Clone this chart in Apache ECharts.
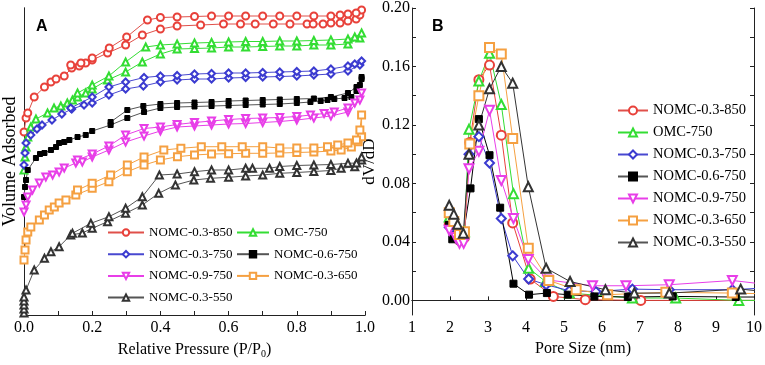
<!DOCTYPE html>
<html>
<head>
<meta charset="utf-8">
<script src="https://cdn.jsdelivr.net/npm/echarts@6/dist/echarts.min.js"></script>
<style>
  html, body { margin: 0; padding: 0; background: #fff; }
  #chart { width: 765px; height: 365px; }
</style>
</head>
<body>
<div id="chart"></div>
<script>
// 样品名称 / 颜色 / 标记
const names = ['NOMC-0.3-850', 'OMC-750', 'NOMC-0.3-750', 'NOMC-0.6-750', 'NOMC-0.9-750', 'NOMC-0.3-650', 'NOMC-0.3-550'];
const colors = ['#e8413a', '#33dd33', '#3b3bd0', '#000000', '#e83ee8', '#f5a041', '#333333'];
const lineColorsA = ['#e0504a', '#33dd33', '#4848d0', '#555555', '#e83ee8', '#f5a041', '#555555'];
const symbols = ['emptyCircle', 'emptyTriangle', 'emptyDiamond', 'rect', 'emptyTriangle', 'emptyRect', 'emptyTriangle'];
const rotates = [0, 0, 0, 0, 180, 0, 0];

// A: isotherms [P/P0, volume (a.u.)]
const ads850 = [[0,183],[0.006,197],[0.011,202],[0.03,218],[0.06,228],[0.079,233],[0.094,236],[0.118,239],[0.14,247],[0.162,249],[0.181,252],[0.2,255],[0.245,262],[0.298,270],[0.347,280],[0.4,286],[0.449,289],[0.518,290],[0.585,291],[0.635,291],[0.678,291],[0.731,291],[0.78,291],[0.83,291],[0.848,291],[0.877,291],[0.9,292],[0.927,292],[0.95,294],[0.974,296],[0.985,300]];
const des850 = [[0.99,305],[0.974,302],[0.95,301],[0.927,300],[0.9,299],[0.85,299],[0.8,299],[0.75,299],[0.7,299],[0.65,299],[0.6,299],[0.55,299],[0.5,298.5],[0.449,298],[0.4,297.5],[0.362,295],[0.301,278],[0.25,267],[0.2,257],[0.167,252],[0.137,250]];
const adsOMC = [[0,145],[0.003,158],[0.006,168],[0.011,178],[0.02,188],[0.035,196],[0.069,202],[0.088,207],[0.108,209],[0.127,212],[0.142,215],[0.157,218],[0.181,222],[0.2,226],[0.245,235],[0.298,243],[0.347,253],[0.4,261],[0.449,266],[0.5,266.5],[0.55,267],[0.6,268],[0.65,268],[0.7,268.5],[0.75,269],[0.8,269],[0.85,270],[0.9,270],[0.95,271],[0.985,277]];
const desOMC = [[0.99,282],[0.97,278],[0.95,276],[0.9,275],[0.85,274.5],[0.8,274],[0.75,274],[0.7,273.5],[0.65,273.5],[0.6,273],[0.55,272.5],[0.5,272],[0.449,271],[0.4,270],[0.357,268],[0.298,253],[0.249,239],[0.2,230],[0.157,222]];
const ads0375 = [[0,150],[0.003,162],[0.006,172],[0.02,180],[0.038,186],[0.053,190],[0.082,195],[0.111,201],[0.14,206],[0.176,210],[0.2,212],[0.249,220],[0.298,226],[0.35,229],[0.4,233],[0.449,235],[0.5,236],[0.55,236],[0.6,237],[0.65,237.5],[0.7,238],[0.75,238.5],[0.8,239],[0.85,240],[0.9,241],[0.95,244],[0.985,250]];
const des0375 = [[0.99,254],[0.97,251],[0.95,249],[0.9,246],[0.85,244],[0.8,243.5],[0.75,243],[0.7,242.5],[0.65,242],[0.6,242],[0.55,241.5],[0.5,241],[0.449,239.5],[0.4,239],[0.352,237.5],[0.298,233],[0.249,228],[0.2,218],[0.137,207]];
const ads0675 = [[0,118],[0.003,128],[0.006,135],[0.011,145],[0.035,157],[0.047,161],[0.06,162],[0.079,165],[0.094,168],[0.103,172],[0.118,173],[0.133,175],[0.157,178],[0.181,180],[0.2,184],[0.254,190],[0.303,197],[0.352,203],[0.4,207],[0.449,208],[0.5,208.5],[0.55,209],[0.6,209.5],[0.65,210],[0.7,210.5],[0.75,211],[0.8,212],[0.84,213],[0.87,214],[0.89,215],[0.91,216],[0.94,217],[0.96,218],[0.975,224],[0.985,230],[0.99,236]];
const des0675 = [[0.99,238],[0.975,228],[0.95,222],[0.9,218],[0.85,216.5],[0.8,216],[0.75,215.5],[0.7,215],[0.65,214.5],[0.6,214],[0.55,213],[0.5,212.5],[0.449,212],[0.4,211],[0.35,209],[0.303,205],[0.254,193]];
const ads0975 = [[0,103],[0.006,110],[0.011,118],[0.025,125],[0.045,132],[0.064,138],[0.084,140],[0.103,143],[0.118,147],[0.152,152],[0.171,153],[0.2,158],[0.249,165],[0.298,173],[0.352,179],[0.4,184],[0.449,188],[0.5,189],[0.55,190],[0.6,191],[0.65,191.5],[0.7,192.5],[0.75,193.5],[0.8,195],[0.85,197],[0.9,199],[0.95,203],[0.985,215]];
const des0975 = [[0.99,222],[0.97,212],[0.95,207],[0.91,203],[0.88,201.5],[0.84,200],[0.8,198.5],[0.75,197.5],[0.7,197],[0.65,196.5],[0.6,195.5],[0.55,194],[0.5,192.5],[0.449,190.5],[0.4,188],[0.352,186.5],[0.298,180],[0.249,169],[0.2,161],[0.157,155]];
const ads0365 = [[0,55],[0.003,65],[0.006,75],[0.011,83],[0.02,88],[0.045,95],[0.06,100],[0.074,105],[0.089,108],[0.103,112],[0.123,115],[0.152,120],[0.2,126.7],[0.249,133.3],[0.303,143.3],[0.352,150],[0.4,155],[0.45,158.3],[0.5,160],[0.55,161],[0.6,161.3],[0.65,161.7],[0.7,161.7],[0.75,162],[0.8,162.5],[0.85,163],[0.9,164],[0.93,165],[0.96,168],[0.98,173.3],[0.99,178.3]];
const des0365 = [[0.99,200],[0.985,185],[0.975,175],[0.95,172],[0.92,170],[0.89,168.3],[0.85,167],[0.8,167],[0.75,167],[0.7,168.3],[0.64,168.3],[0.58,168.3],[0.52,168.3],[0.46,166.7],[0.41,165],[0.352,158],[0.303,150],[0.254,140],[0.2,131.7],[0.157,125]];
const ads0355 = [[0,2],[0,6],[0,10],[0,14],[0,18],[0.006,25],[0.03,45],[0.06,56.7],[0.079,63.3],[0.103,68.3],[0.137,80],[0.171,82],[0.2,86.7],[0.245,93.3],[0.298,101.7],[0.347,110],[0.395,121.7],[0.444,130],[0.498,135],[0.547,136.7],[0.6,137.7],[0.65,139],[0.7,140],[0.75,141.7],[0.8,142.5],[0.85,143.5],[0.9,144.5],[0.93,146.7],[0.97,148.3],[0.99,155]];
const des0355 = [[0.99,158],[0.975,152],[0.95,151.7],[0.9,150.5],[0.85,150],[0.8,149.5],[0.75,148.5],[0.72,146.7],[0.67,146.7],[0.65,146.7],[0.6,145],[0.55,145],[0.5,143.3],[0.449,141],[0.397,140],[0.347,118.3],[0.298,106.7],[0.249,98.3],[0.196,91.7],[0.142,81.7]];

// B: pore size distribution [nm, dV/dD]
const b850 = [[1.98,0.052],[2.12,0.046],[2.25,0.041],[2.38,0.043],[2.52,0.108],[2.76,0.151],[3.04,0.161],[3.35,0.113],[3.65,0.053],[4.11,0.0146],[4.72,0.0027],[5.56,0.0005],[7.02,0.0],[10.3,0.0]];
const bOMC = [[1.98,0.057],[2.1,0.05],[2.25,0.043],[2.38,0.047],[2.5,0.117],[2.76,0.15],[3.04,0.169],[3.35,0.134],[3.67,0.073],[4.07,0.022],[4.51,0.013],[5.14,0.005],[6.8,0.0016],[7.94,0.0016],[9.6,0.0],[10.3,0.0]];
const b0375 = [[1.98,0.05],[2.1,0.045],[2.22,0.041],[2.36,0.044],[2.5,0.1],[2.76,0.112],[3.04,0.094],[3.35,0.056],[3.65,0.0305],[4.07,0.0146],[4.53,0.0107],[5.14,0.0066],[5.84,0.006],[6.8,0.0077],[7.77,0.0073],[9.43,0.0073],[10.3,0.0085]];
const b0675 = [[1.97,0.0516],[2.06,0.0418],[2.2,0.045],[2.35,0.045],[2.54,0.0766],[2.76,0.124],[3.04,0.0993],[3.32,0.0634],[3.67,0.0114],[4.08,0.0039],[4.55,0.005],[5.1,0.0039],[5.8,0.0027],[6.68,0.0023],[7.86,0.0027],[9.52,0.0023],[10.3,0.0023]];
const b0975 = [[1.98,0.048],[2.15,0.043],[2.25,0.039],[2.36,0.039],[2.5,0.09],[2.76,0.102],[3.04,0.13],[3.35,0.082],[3.67,0.056],[4.06,0.028],[4.57,0.014],[5.75,0.01],[6.63,0.01],[7.77,0.0107],[9.43,0.0136],[10.3,0.011]];
const b0365 = [[1.98,0.06],[2.1,0.054],[2.25,0.045],[2.38,0.047],[2.52,0.107],[2.76,0.14],[3.04,0.173],[3.35,0.1686],[3.65,0.1107],[4.06,0.0357],[4.6,0.0136],[5.32,0.0073],[6.15,0.0039],[7.68,0.0055],[9.43,0.005],[10.3,0.0045]];
const b0355 = [[1.98,0.065],[2.1,0.059],[2.2,0.052],[2.35,0.046],[2.5,0.1],[2.76,0.12],[3.04,0.1447],[3.35,0.16],[3.65,0.1486],[4.06,0.0777],[4.53,0.022],[5.16,0.0129],[6.09,0.0073],[6.85,0.005],[7.77,0.005],[9.65,0.0077],[10.3,0.006]];

const isoA = [ads850.concat(des850), adsOMC.concat(desOMC), ads0375.concat(des0375), ads0675.concat(des0675),
  ads0975.concat(des0975), ads0365.concat(des0365), ads0355.concat(des0355)];
const psdB = [b850, bOMC, b0375, b0675, b0975, b0365, b0355];

const FONT = 'Liberation Serif';
const bTicks = [0, 0.04, 0.08, 0.12, 0.16, 0.2];
const bMinor = [0, 0.02, 0.04, 0.06, 0.08, 0.1, 0.12, 0.14, 0.16, 0.18, 0.2];

const series = [];
for (let i = 0; i < names.length; i++) {
  series.push({
    name: names[i],
    type: 'line',
    xAxisIndex: 0,
    yAxisIndex: 0,
    data: isoA[i],
    symbol: symbols[i],
    symbolRotate: rotates[i],
    symbolSize: symbols[i] === 'rect' ? 5 : 7,
    showAllSymbol: true,
    clip: true,
    lineStyle: { color: lineColorsA[i], width: 1 },
    itemStyle: { color: colors[i], borderColor: colors[i], borderWidth: 1 },
    emphasis: { disabled: true },
    animation: false,
  });
}
for (let i = 0; i < names.length; i++) {
  series.push({
    name: names[i],
    type: 'line',
    xAxisIndex: 2,
    yAxisIndex: 2,
    data: psdB[i],
    symbol: symbols[i],
    symbolRotate: rotates[i],
    symbolSize: symbols[i] === 'rect' ? 7 : 9,
    showAllSymbol: true,
    clip: true,
    lineStyle: { color: colors[i], width: 1 },
    itemStyle: { color: colors[i], borderColor: colors[i], borderWidth: 1 },
    emphasis: { disabled: true },
    animation: false,
  });
}

const axisLine = { show: true, lineStyle: { color: '#222', width: 1 } };
const labelStyle = { color: '#000', fontSize: 16, fontFamily: FONT };
const nameStyle = { color: '#000', fontSize: 16, fontFamily: FONT };

const option = {
  backgroundColor: '#fff',
  animation: false,
  title: [
    { text: 'A', left: 36, top: 19, padding: 0, textStyle: { fontFamily: 'Liberation Sans', fontWeight: 'bold', fontSize: 16, color: '#000' } },
    { text: 'B', left: 432, top: 19, padding: 0, textStyle: { fontFamily: 'Liberation Sans', fontWeight: 'bold', fontSize: 16, color: '#000' } },
  ],
  grid: [
    { left: 23, top: 8, width: 342, height: 307 },
    { left: 412, top: 8, width: 343, height: 307 },
  ],
  legend: [
    {
      data: ['NOMC-0.3-850', 'NOMC-0.3-750', 'NOMC-0.9-750', 'NOMC-0.3-550'],
      orient: 'vertical', left: 107, top: 226, padding: 0,
      itemWidth: 36, itemHeight: 8, itemGap: 8.7,
      textStyle: { fontFamily: FONT, fontSize: 13, color: '#000' },
    },
    {
      data: ['OMC-750', 'NOMC-0.6-750', 'NOMC-0.3-650'],
      orient: 'vertical', left: 236, top: 226, padding: 0,
      itemWidth: 32, itemHeight: 8, itemGap: 8.7,
      textStyle: { fontFamily: FONT, fontSize: 13, color: '#000' },
    },
    {
      data: names,
      orient: 'vertical', left: 617, top: 103, padding: 0,
      itemWidth: 30, itemHeight: 10, itemGap: 7,
      textStyle: { fontFamily: FONT, fontSize: 14.5, color: '#000' },
    },
  ],
  xAxis: [
    {
      gridIndex: 0, type: 'value', min: 0, max: 1, interval: 0.2,
      axisLine,
      axisTick: { show: true, inside: true, length: 4, lineStyle: { color: '#222' } },
      minorTick: { show: true, splitNumber: 2, length: 4, lineStyle: { color: '#222' } },
      axisLabel: { ...labelStyle, margin: 5, formatter: (v) => v.toFixed(1) },
      splitLine: { show: false },
      name: 'Relative Pressure (P/P{s|0})', nameLocation: 'middle', nameGap: 25,
      nameTextStyle: { ...nameStyle, rich: { s: { fontSize: 10, fontFamily: FONT, color: '#000', padding: [9, 0, 0, 0] } } },
    },
    {
      gridIndex: 0, type: 'value', min: 0, max: 1, position: 'top',
      axisLine, axisTick: { show: false }, axisLabel: { show: false }, splitLine: { show: false },
    },
    {
      gridIndex: 1, type: 'value', min: 1, max: 10, interval: 1,
      axisLine,
      axisTick: { show: true, inside: true, length: 4, lineStyle: { color: '#222' } },
      axisLabel: { ...labelStyle, margin: 5 },
      splitLine: { show: false },
      name: 'Pore Size (nm)', nameLocation: 'middle', nameGap: 25, nameTextStyle: nameStyle,
    },
    {
      gridIndex: 1, type: 'value', min: 1, max: 10, position: 'top',
      axisLine, axisTick: { show: false }, axisLabel: { show: false }, splitLine: { show: false },
    },
  ],
  yAxis: [
    {
      gridIndex: 0, type: 'value', min: 0, max: 307,
      axisLine, axisTick: { show: false }, axisLabel: { show: false }, splitLine: { show: false },
      name: 'Volume Adsorbed', nameLocation: 'middle', nameGap: 5,
      nameTextStyle: { ...nameStyle, fontSize: 18 },
    },
    {
      gridIndex: 0, type: 'value', min: 0, max: 307, position: 'right',
      axisLine, axisTick: { show: false }, axisLabel: { show: false }, splitLine: { show: false },
    },
    {
      gridIndex: 1, type: 'value', min: -0.01, max: 0.2,
      axisLine,
      axisTick: { show: true, inside: true, length: 4, customValues: bMinor, lineStyle: { color: '#222' } },
      axisLabel: { ...labelStyle, margin: 2, customValues: bTicks, formatter: (v) => v.toFixed(2) },
      splitLine: { show: false },
      name: 'dV/dD', nameLocation: 'middle', nameGap: 24,
      nameTextStyle: { ...nameStyle, fontSize: 17 },
    },
    {
      gridIndex: 1, type: 'value', min: -0.01, max: 0.2, position: 'right',
      axisLine,
      axisTick: { show: true, inside: true, length: 4, customValues: bMinor, lineStyle: { color: '#222' } },
      axisLabel: { show: false }, splitLine: { show: false },
    },
  ],
  series,
};

const chart = echarts.init(document.getElementById('chart'));
chart.setOption(option);
</script>
</body>
</html>
